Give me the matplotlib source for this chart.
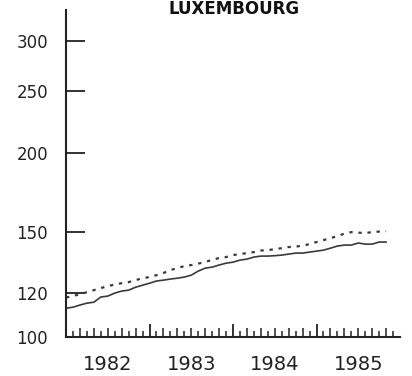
import matplotlib
matplotlib.use("Agg")
import matplotlib.pyplot as plt
import numpy as np

# monthly index, Jan 1982 .. Nov 1985
months = np.arange(47)
dates = 1982 + months / 12.0

# solid line
series_a = [113.6, 114.0, 114.9, 115.7, 116.1, 118.3, 118.7, 120.0, 120.9, 121.3,
            122.6, 123.5, 124.4, 125.4, 125.8, 126.3, 126.7, 127.2, 128.1, 130.0,
            131.4, 131.9, 132.9, 133.8, 134.3, 135.3, 135.8, 136.8, 137.3, 137.3,
            137.5, 137.8, 138.3, 138.8, 138.8, 139.3, 139.8, 140.3, 141.3, 142.4,
            142.9, 142.9, 144.0, 143.4, 143.4, 144.5, 144.5]
# dotted line
series_b = [118.1, 118.7, 119.6, 120.4, 121.3, 122.2, 123.1, 123.8, 124.4, 124.9,
            125.8, 126.7, 127.2, 128.1, 129.1, 130.5, 131.4, 132.4, 132.9, 133.6,
            134.3, 135.5, 136.3, 136.8, 137.8, 138.3, 138.8, 139.3, 140.1, 140.3,
            140.8, 141.3, 141.9, 142.1, 142.6, 143.4, 144.5, 145.5, 146.6, 147.6,
            149.0, 149.8, 149.5, 149.3, 149.8, 150.1, 150.3]

y_min, y_max = 102.3, 336
y_ticks = [y_min, 120, 150, 200, 250, 300]
y_labels = ["100", "120", "150", "200", "250", "300"]
years = [1982, 1983, 1984, 1985]

fig = plt.figure(figsize=(4.12, 3.76), dpi=100)
ax = fig.add_axes([66 / 412, 39 / 376, 334 / 412, 327 / 376])

ax.plot(dates, series_a, color="#3a3a3a", lw=1.2)
ax.plot(dates, series_b, color="#3a3a3a", lw=1.6, ls=(0, (1.5, 2.6)))

ax.set_yscale("log")
ax.set_ylim(y_min, y_max)
ax.set_xlim(1982, 1986)
ax.set_yticks(y_ticks)
ax.set_yticklabels(y_labels)
ax.yaxis.set_minor_locator(matplotlib.ticker.NullLocator())
ax.tick_params(axis="y", direction="in", length=14, width=1.3, pad=13,
               labelsize=12, color="#222222", labelcolor="#222222")

for s in ["top", "right"]:
    ax.spines[s].set_visible(False)
for s in ["left", "bottom"]:
    ax.spines[s].set_linewidth(1.5)
    ax.spines[s].set_color("#222222")

# year boundary ticks and monthly ticks
all_months = 1982 + np.arange(1, 48) / 12.0
tall = [m for i, m in enumerate(all_months, start=1) if i % 12 != 0 and i % 2 == 0]
short = [m for i, m in enumerate(all_months, start=1) if i % 2 == 1]
ax.set_xticks(years[1:])
ax.set_xticklabels([])
ax.set_xticks(tall, minor=True)
ax.tick_params(axis="x", which="major", direction="in", length=9.5, width=1.3, color="#222222")
ax.tick_params(axis="x", which="minor", direction="in", length=6.5, width=1.1, color="#222222")

sec = ax.secondary_xaxis("bottom")
sec.spines["bottom"].set_visible(False)
sec.set_xticks([y + 0.5 for y in years])
sec.set_xticklabels([str(y) for y in years])
sec.set_xticks(short, minor=True)
sec.tick_params(axis="x", which="major", length=0, pad=13, labelsize=14, labelcolor="#222222")
sec.tick_params(axis="x", which="minor", direction="in", length=4, width=1.1, color="#222222")

fig.text(234 / 412, 1 - 14 / 376, "LUXEMBOURG", ha="center", va="baseline",
         fontsize=12, fontweight="bold", color="#111111")

fig.savefig("out.png", dpi=100)
